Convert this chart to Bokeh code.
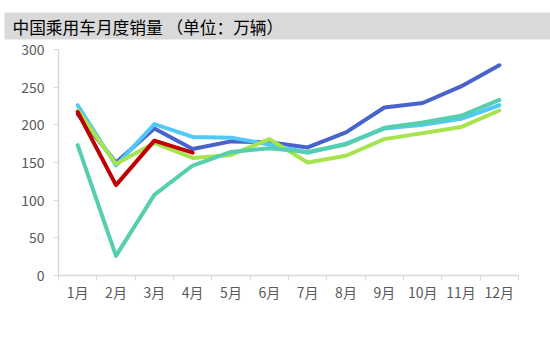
from bokeh.plotting import figure
from bokeh.models import FixedTicker, Legend, LegendItem, Title
from bokeh.embed import file_html
from bokeh.resources import INLINE

months = ["1月", "2月", "3月", "4月", "5月", "6月", "7月", "8月", "9月", "10月", "11月", "12月"]
s2017 = [214, 150, 195, 168, 178, 177, 170, 190, 223, 229, 251, 279]
s2018 = [226, 146, 201, 184, 183, 174, 163, 175, 195, 200, 208, 226]
s2019 = [219, 148, 176, 156, 160, 181, 150, 159, 181, 189, 197, 219]
s2020 = [173, 26, 107, 146, 164, 169, 164, 174, 196, 203, 212, 233]
s2021 = [217, 120, 179, 163]
series_names = ["2017年", "2018年", "2019年", "2020年", "2021年"]
series_vals = [s2017, s2018, s2019, s2020, s2021]
colors = ["#4864CC", "#52C8F5", "#A6E44E", "#55CFAE", "#C00000"]
title_text = "中国乘用车月度销量 （单位：万辆）"

FONT = "Noto Sans CJK SC"
GRAY = "#595959"
AXIS = "#D9D9D9"

xs = list(range(1, len(months) + 1))

p = figure(frame_width=460, frame_height=226, output_backend="svg", toolbar_location=None,
           x_range=(0.5, len(months) + 0.5), y_range=(0, 300),
           min_border_left=58, min_border_right=32, min_border_bottom=82, min_border_top=0)

t = Title(text=title_text, text_font=FONT, text_font_size="16.7px",
          text_font_style="normal", text_color="#000000", background_fill_color="#D9D9D9",
          padding=dict(left=8, right=271, top=2, bottom=1),
          standoff=20, offset=-54)
p.add_layout(t, "above")

p.xgrid.visible = False
p.ygrid.visible = False
p.outline_line_color = None

p.xaxis.ticker = FixedTicker(ticks=xs, minor_ticks=[x - 0.5 for x in xs] + [len(xs) + 0.5])
p.xaxis.major_label_overrides = {x: m for x, m in zip(xs, months)}
p.xaxis.major_tick_line_color = None
p.xaxis.minor_tick_line_color = AXIS
p.xaxis.minor_tick_out = 5
p.xaxis.minor_tick_in = 0
p.xaxis.axis_line_color = AXIS
p.xaxis.major_label_standoff = 0

p.yaxis.ticker = FixedTicker(ticks=[0, 50, 100, 150, 200, 250, 300])
p.yaxis.minor_tick_line_color = None
p.yaxis.major_tick_line_color = AXIS
p.yaxis.major_tick_out = 5
p.yaxis.major_tick_in = 0
p.yaxis.axis_line_color = AXIS
p.yaxis.major_label_standoff = 9

for ax in (p.xaxis, p.yaxis):
    ax.major_label_text_font = FONT
    ax.major_label_text_font_size = "14px"
    ax.major_label_text_color = GRAY
    ax.axis_line_width = 1.5

items = []
for name, vals, c in zip(series_names, series_vals, colors):
    r = p.line(xs[:len(vals)], vals, line_color=c, line_width=4,
               line_join="round", line_cap="round")
    items.append(LegendItem(label=name, renderers=[r]))

legend = Legend(items=items, orientation="horizontal", location="bottom",
                glyph_width=38, glyph_height=14, label_standoff=2, spacing=13,
                padding=0, margin=10, border_line_color=None, background_fill_alpha=0,
                label_text_font=FONT, label_text_font_size="14px", label_text_color=GRAY)
p.add_layout(legend, "below")

open("out.html", "w").write(file_html(p, INLINE))
